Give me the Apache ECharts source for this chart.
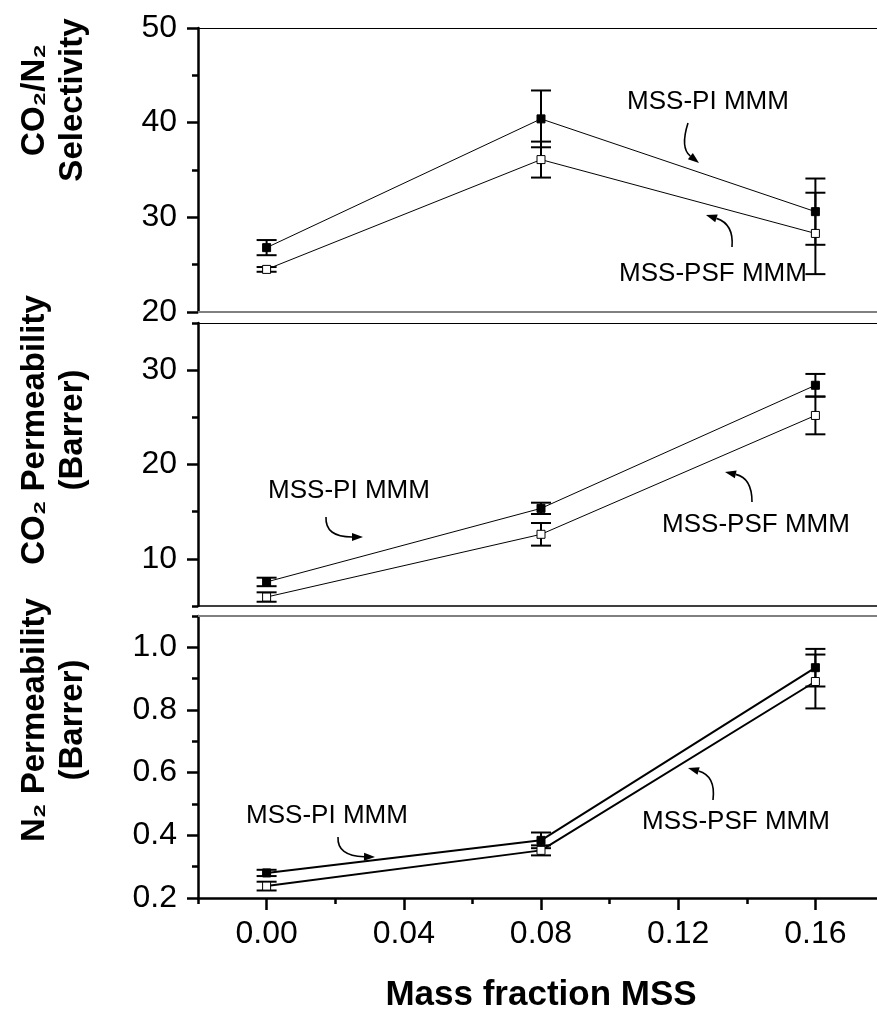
<!DOCTYPE html>
<html>
<head>
<meta charset="utf-8">
<script src="https://cdn.jsdelivr.net/npm/echarts@6/dist/echarts.min.js"></script>
</head>
<body style="margin:0;background:#fff">
<div id="main" style="width:877px;height:1014px;"></div>
<script type="text/javascript">
// mass fraction of MSS (x positions of the measurements)
var massFraction = [0, 0.08, 0.16];

// CO2/N2 selectivity
var selPI = [26.8, 40.4, 30.6];
var selPIErr = [0.8, 3.0, 3.5];
var selPSF = [24.5, 36.1, 28.3];
var selPSFErr = [0.25, 1.9, 4.3];

// CO2 permeability (Barrer)
var co2PI = [7.55, 15.35, 28.4];
var co2PIErr = [0.45, 0.6, 1.2];
var co2PSF = [5.95, 12.6, 25.2];
var co2PSFErr = [0.5, 1.2, 2.0];

// N2 permeability (Barrer)
var n2PI = [0.28, 0.384, 0.935];
var n2PIErr = [0.01, 0.025, 0.06];
var n2PSF = [0.238, 0.352, 0.891];
var n2PSFErr = [0.014, 0.016, 0.086];

// ticks
var xMajor = [0, 0.04, 0.08, 0.12, 0.16];
var xMinor = [-0.02, 0.02, 0.06, 0.10, 0.14];
var selMajor = [20, 30, 40, 50];
var selMinor = [25, 35, 45];
var co2Major = [10, 20, 30];
var co2Minor = [5, 15, 25, 35];
var n2Major = [0.2, 0.4, 0.6, 0.8, 1.0];
var n2Minor = [0.3, 0.5, 0.7, 0.9, 1.1];

var FONT = '"Liberation Sans", Arial, sans-serif';
var myChart = echarts.init(document.getElementById('main'));

function plainX(grid, pos, color, width) {
	return {
		type : 'value', gridIndex : grid, position : pos, min : -0.02, max : 0.18,
		axisLine : { show : true, onZero : false, lineStyle : { color : color, width : width } },
		axisTick : { show : false }, axisLabel : { show : false }, splitLine : { show : false }
	};
}
function mainY(grid, min, max, major, dec) {
	return {
		type : 'value', gridIndex : grid, position : 'left', min : min, max : max,
		axisLine : { show : true, onZero : false, lineStyle : { color : '#000', width : 2.5 } },
		axisTick : { show : true, customValues : major, length : 11, lineStyle : { color : '#000', width : 2.5 } },
		axisLabel : {
			customValues : major, fontSize : 32, color : '#000', fontFamily : FONT, margin : 21,
			formatter : function(v) { return v.toFixed(dec); }
		},
		splitLine : { show : false }
	};
}
function minorY(grid, min, max, minor) {
	return {
		type : 'value', gridIndex : grid, position : 'left', min : min, max : max,
		axisLine : { show : false, onZero : false },
		axisTick : { show : true, customValues : minor, length : 6, lineStyle : { color : '#000', width : 2.5 } },
		axisLabel : { show : false }, splitLine : { show : false }
	};
}
function lineSeries(xi, yi, ys, filled, width) {
	return {
		type : 'line', xAxisIndex : xi, yAxisIndex : yi,
		data : massFraction.map(function(x, i) { return [x, ys[i]]; }),
		symbol : 'rect', symbolSize : 8, showSymbol : true, z : 3,
		lineStyle : { color : '#000', width : width },
		itemStyle : { color : filled ? '#000' : '#fff', borderColor : '#000', borderWidth : 1 }
	};
}
function errSeries(xi, yi, ys, errs) {
	return {
		type : 'custom', xAxisIndex : xi, yAxisIndex : yi, z : 2,
		data : massFraction.map(function(x, i) { return [x, ys[i] - errs[i], ys[i] + errs[i]]; }),
		encode : { x : 0, y : [1, 2] },
		renderItem : function(params, api) {
			var top = api.coord([api.value(0), api.value(2)]);
			var bot = api.coord([api.value(0), api.value(1)]);
			var hw = 10, st = { stroke : '#000', lineWidth : 2 };
			return {
				type : 'group',
				children : [
					{ type : 'line', shape : { x1 : top[0], y1 : top[1], x2 : bot[0], y2 : bot[1] }, style : st },
					{ type : 'line', shape : { x1 : top[0] - hw, y1 : top[1], x2 : top[0] + hw, y2 : top[1] }, style : st },
					{ type : 'line', shape : { x1 : bot[0] - hw, y1 : bot[1], x2 : bot[0] + hw, y2 : bot[1] }, style : st }
				]
			};
		}
	};
}
function arrow(p0, c, p1) {
	var dx = p1[0] - c[0], dy = p1[1] - c[1];
	var len = Math.sqrt(dx * dx + dy * dy), ux = dx / len, uy = dy / len;
	var L = 11, W = 4;
	var b = [p1[0] - ux * L, p1[1] - uy * L];
	return [
		{ type : 'bezierCurve', shape : { x1 : p0[0], y1 : p0[1], cpx1 : c[0], cpy1 : c[1], x2 : b[0], y2 : b[1] },
			style : { stroke : '#000', lineWidth : 1.6, fill : 'none' } },
		{ type : 'polygon', shape : { points : [p1, [b[0] - uy * W, b[1] + ux * W], [b[0] + uy * W, b[1] - ux * W]] },
			style : { fill : '#000' } }
	];
}
function note(text, x, y) {
	return { type : 'text', x : x, y : y,
		style : { text : text, fontSize : 26, fontFamily : FONT, fill : '#000', align : 'center', verticalAlign : 'middle' } };
}
function yTitle(text, x, y) {
	return { type : 'text', x : x, y : y, rotation : Math.PI / 2,
		style : { text : text, fontSize : 33, fontWeight : 'bold', fontFamily : FONT, fill : '#000',
			align : 'center', verticalAlign : 'middle', lineHeight : 38 } };
}

var graphics = [
	yTitle('CO\u2082/N\u2082\nSelectivity', 54, 100),
	yTitle('CO\u2082 Permeability\n(Barrer)', 54, 430),
	yTitle('N\u2082 Permeability\n(Barrer)', 54, 720),
	note('MSS-PI MMM', 708, 102),
	note('MSS-PSF MMM', 713, 274),
	note('MSS-PI MMM', 349, 491),
	note('MSS-PSF MMM', 756, 525),
	note('MSS-PI MMM', 327, 816),
	note('MSS-PSF MMM', 736, 822)
].concat(
	arrow([688, 123], [680, 148], [699, 163]),
	arrow([732, 247], [734, 224], [706, 215]),
	arrow([326, 517], [325, 537], [363, 537]),
	arrow([752, 502], [752, 478], [725, 472]),
	arrow([338, 837], [337, 856], [375, 857]),
	arrow([713, 800], [716, 776], [688, 768])
);

var option = {
	animation : false,
	backgroundColor : '#fff',
	grid : [
		{ left : 198, top : 28, width : 686, height : 284, outerBoundsMode : 'none' },
		{ left : 198, top : 323, width : 686, height : 283, outerBoundsMode : 'none' },
		{ left : 198, top : 616, width : 686, height : 282, outerBoundsMode : 'none' }
	],
	xAxis : [
		plainX(0, 'bottom', '#808080', 2),
		plainX(0, 'top', '#000', 1.2),
		plainX(1, 'bottom', '#000', 1.5),
		plainX(1, 'top', '#000', 1.2),
		{
			type : 'value', gridIndex : 2, position : 'bottom', min : -0.02, max : 0.18,
			axisLine : { show : true, onZero : false, lineStyle : { color : '#000', width : 2.5 } },
			axisTick : { show : true, customValues : xMajor, length : 12, lineStyle : { color : '#000', width : 2.5 } },
			axisLabel : {
				customValues : xMajor, fontSize : 32, color : '#000', fontFamily : FONT, margin : 20,
				formatter : function(v) { return v.toFixed(2); }
			},
			splitLine : { show : false },
			name : 'Mass fraction MSS', nameLocation : 'middle', nameGap : 80,
			nameTextStyle : { fontSize : 35, fontWeight : 'bold', color : '#000', fontFamily : FONT }
		},
		plainX(2, 'top', '#808080', 2),
		{
			type : 'value', gridIndex : 2, position : 'bottom', min : -0.02, max : 0.18,
			axisLine : { show : false, onZero : false },
			axisTick : { show : true, customValues : xMinor, length : 6, lineStyle : { color : '#000', width : 2.5 } },
			axisLabel : { show : false }, splitLine : { show : false }
		}
	],
	yAxis : [
		mainY(0, 20, 50, selMajor, 0),
		minorY(0, 20, 50, selMinor),
		mainY(1, 5, 35, co2Major, 0),
		minorY(1, 5, 35, co2Minor),
		mainY(2, 0.2, 1.1, n2Major, 1),
		minorY(2, 0.2, 1.1, n2Minor)
	],
	series : [
		errSeries(0, 0, selPI, selPIErr),
		errSeries(0, 0, selPSF, selPSFErr),
		lineSeries(0, 0, selPI, true, 1),
		lineSeries(0, 0, selPSF, false, 1),
		errSeries(2, 2, co2PI, co2PIErr),
		errSeries(2, 2, co2PSF, co2PSFErr),
		lineSeries(2, 2, co2PI, true, 1),
		lineSeries(2, 2, co2PSF, false, 1),
		errSeries(4, 4, n2PI, n2PIErr),
		errSeries(4, 4, n2PSF, n2PSFErr),
		lineSeries(4, 4, n2PI, true, 2),
		lineSeries(4, 4, n2PSF, false, 2)
	],
	graphic : graphics
};
myChart.setOption(option);
</script>
</body>
</html>
